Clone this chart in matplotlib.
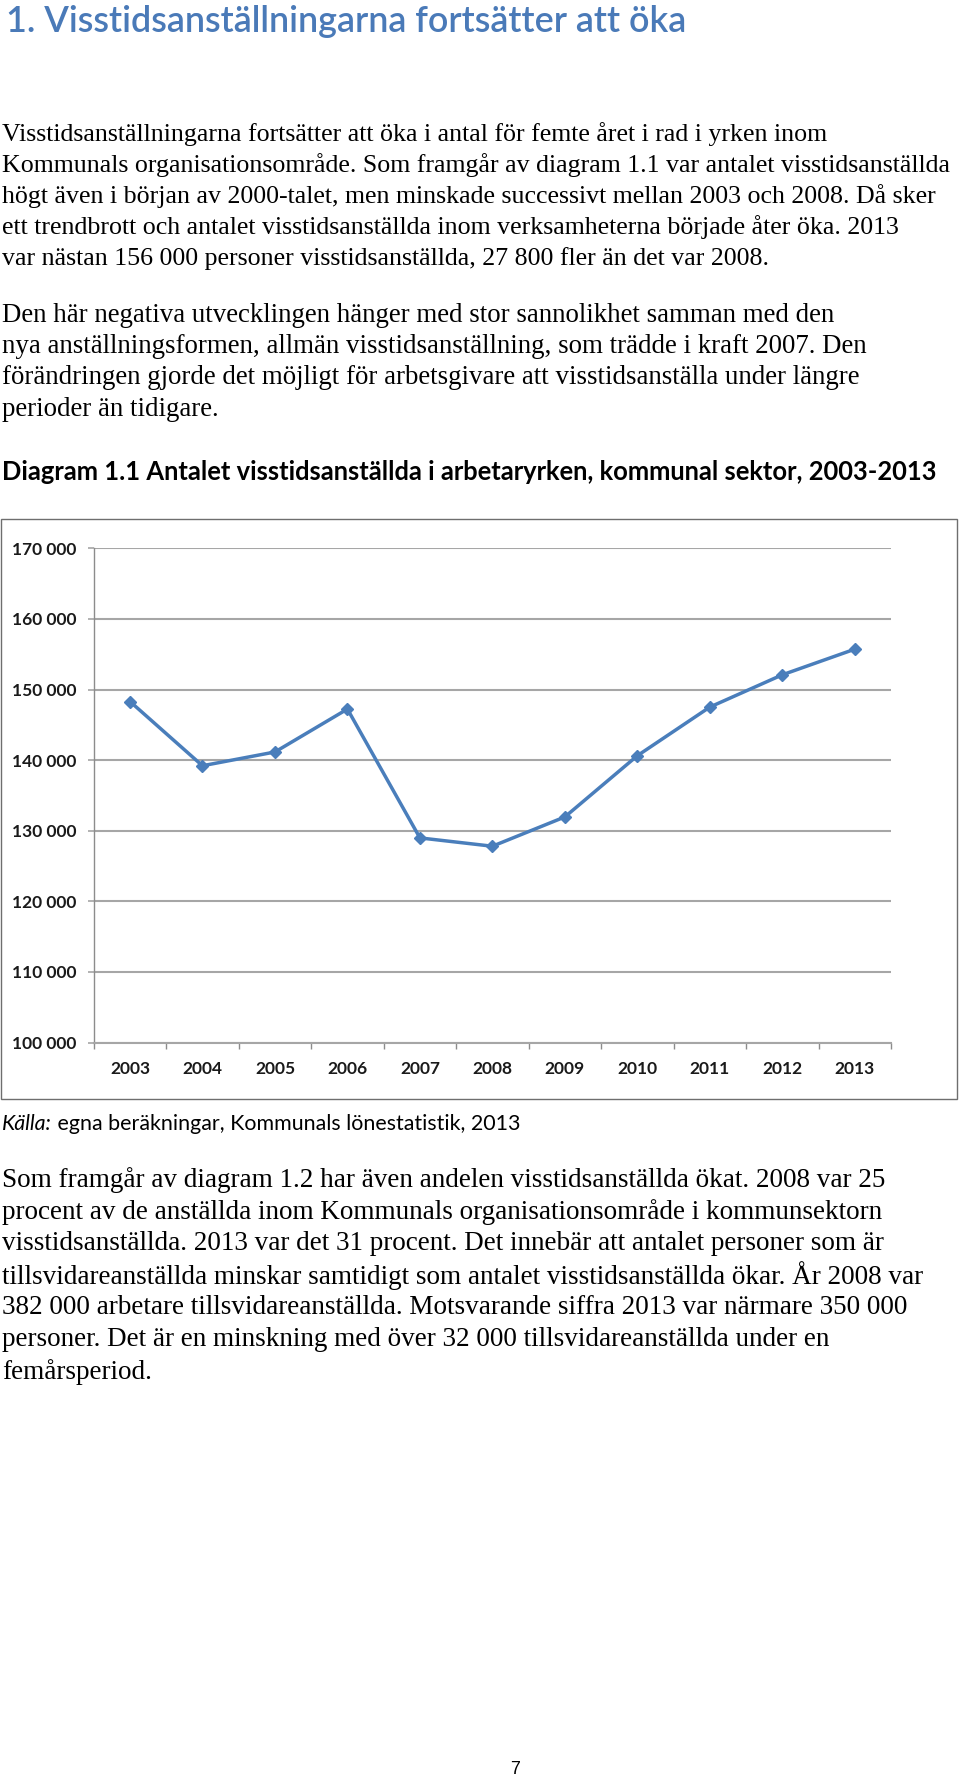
import numpy as np
import matplotlib
matplotlib.use("Agg")
import matplotlib.pyplot as plt
from matplotlib.patches import Rectangle

years = ["2003", "2004", "2005", "2006", "2007", "2008", "2009", "2010", "2011", "2012", "2013"]
antal = [148300, 139200, 141150, 147230, 128980, 127800, 131950, 140620, 147510, 152080, 155710]
yticks = [100000, 110000, 120000, 130000, 140000, 150000, 160000, 170000]
ytick_labels = ["100 000", "110 000", "120 000", "130 000", "140 000", "150 000", "160 000", "170 000"]

title = "1. Visstidsanställningarna fortsätter att öka"
para1 = [
    "Visstidsanställningarna fortsätter att öka i antal för femte året i rad i yrken inom",
    "Kommunals organisationsområde. Som framgår av diagram 1.1 var antalet visstidsanställda",
    "högt även i början av 2000-talet, men minskade successivt mellan 2003 och 2008. Då sker",
    "ett trendbrott och antalet visstidsanställda inom verksamheterna började åter öka. 2013",
    "var nästan 156 000 personer visstidsanställda, 27 800 fler än det var 2008.",
]
para2 = [
    "Den här negativa utvecklingen hänger med stor sannolikhet samman med den",
    "nya anställningsformen, allmän visstidsanställning, som trädde i kraft 2007. Den",
    "förändringen gjorde det möjligt för arbetsgivare att visstidsanställa under längre",
    "perioder än tidigare.",
]
diagram_title = "Diagram 1.1 Antalet visstidsanställda i arbetaryrken, kommunal sektor, 2003-2013"
para3 = [
    "Som framgår av diagram 1.2 har även andelen visstidsanställda ökat. 2008 var 25",
    "procent av de anställda inom Kommunals organisationsområde i kommunsektorn",
    "visstidsanställda. 2013 var det 31 procent. Det innebär att antalet personer som är",
    "tillsvidareanställda minskar samtidigt som antalet visstidsanställda ökar. År 2008 var",
    "382 000 arbetare tillsvidareanställda. Motsvarande siffra 2013 var närmare 350 000",
    "personer. Det är en minskning med över 32 000 tillsvidareanställda under en",
    "femårsperiod.",
]

W, H = 960, 1787
fig = plt.figure(figsize=(W / 100, H / 100), dpi=100)


def fy(y):
    return 1 - y / H


serif = "Liberation Serif"
sans = "Lato"
head_blue = "#4a7ab8"
line_blue = "#4a7ebb"
grid_gray = "#a6a6a6"

fig.text(6 / W, fy(21), title, family=sans, fontsize=25.8, fontweight="semibold", color=head_blue, va="center")

for i, line in enumerate(para1):
    fig.text(2 / W, fy(134.5 + i * 30.9), line, family=serif, fontsize=18.6, va="center")
for i, line in enumerate(para2):
    fig.text(2 / W, fy(315 + i * 31.5), line, family=serif, fontsize=19.4, va="center")

fig.text(2 / W, fy(472), diagram_title, family=sans, fontsize=18.4, fontweight="bold", va="center")

# outer chart frame
fig.patches.append(Rectangle((1 / W, fy(1098.5)), 956 / W, 580 / H, transform=fig.transFigure,
                             fill=False, edgecolor="#6e6e6e", lw=1))

ax = fig.add_axes([93.75 / W, fy(1042.5), (891 - 93.75) / W, (1042.5 - 548.3) / H])
x = np.arange(len(years))
ax.plot(x, antal, color=line_blue, lw=2.5, marker="D", ms=6.5, zorder=3)
ax.set_xlim(-0.5, len(years) - 0.5)
ax.set_ylim(100000, 170000)
ax.set_yticks(yticks, ytick_labels)
ax.set_xticks(x, years)
ax.set_xticks(np.arange(-0.5, len(years), 1), minor=True)
ax.grid(axis="y", color=grid_gray, lw=1.5)
ax.set_axisbelow(True)
for s in ["top", "right"]:
    ax.spines[s].set_visible(False)
ax.spines["bottom"].set_color(grid_gray)
ax.spines["bottom"].set_linewidth(1.5)
ax.spines["left"].set_color("#8c8c8c")
ax.spines["left"].set_linewidth(1)
ax.tick_params(axis="y", length=4.3, width=1.2, color=grid_gray, pad=8, labelsize=12.5)
ax.tick_params(axis="x", which="major", length=0, pad=13, labelsize=12.5)
ax.tick_params(axis="x", which="minor", length=4, width=1, color="#8c8c8c")
for lab in ax.get_xticklabels() + ax.get_yticklabels():
    lab.set_family(sans)
    lab.set_fontweight("bold")
    lab.set_color("#1a1a1a")

kalla = fig.text(2 / W, fy(1124), "Källa:", family=sans, fontsize=15.4, style="italic", va="center")
plt.annotate(" egna beräkningar, Kommunals lönestatistik, 2013", xy=(1, 0.5), xycoords=kalla,
             family=sans, fontsize=15.4, va="center", ha="left")

for i, line in enumerate(para3):
    fig.text(2 / W, fy(1180 + i * 32), line, family=serif, fontsize=19.5, va="center")

fig.text(515 / W, fy(1769), "7", family="Liberation Sans", fontsize=13, ha="center", va="center")

fig.savefig("out.png", dpi=100)
